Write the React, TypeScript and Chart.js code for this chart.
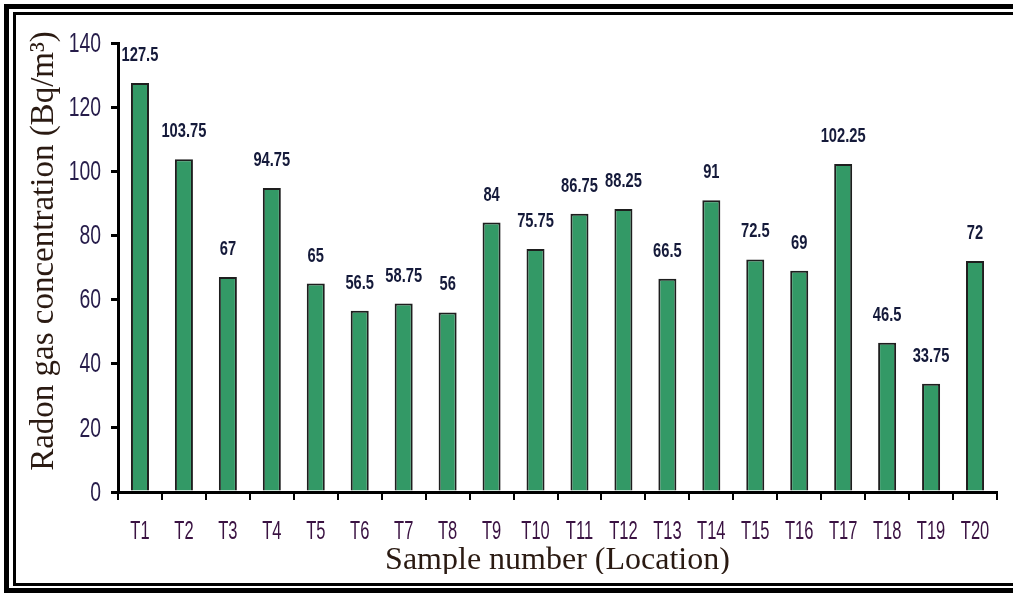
import React, { useEffect, useRef } from "react";
import { Chart, registerables } from "chart.js";

Chart.register(...registerables);

const categories = ["T1","T2","T3","T4","T5","T6","T7","T8","T9","T10","T11","T12","T13","T14","T15","T16","T17","T18","T19","T20"];
const radonValues = [127.5, 103.75, 67, 94.75, 65, 56.5, 58.75, 56, 84, 75.75, 86.75, 88.25, 66.5, 91, 72.5, 69, 102.25, 46.5, 33.75, 72];
const yTickValues = [0, 20, 40, 60, 80, 100, 120, 140];
const xTitle = "Sample number (Location)";
const yTitle = "Radon gas concentration (Bq/m³)";

const SANS = "'Liberation Sans', Arial, sans-serif";
const SERIF = "'Liberation Serif', 'Times New Roman', serif";

// draws text horizontally condensed (the reference uses a narrow face)
function narrowText(ctx: any, text: string, x: number, y: number, sx: number) {
  ctx.save();
  ctx.translate(x, y);
  ctx.scale(sx, 1);
  ctx.fillText(text, 0, 0);
  ctx.restore();
}

const framePlugin = {
  id: "frame",
  afterDraw(chart: any) {
    const ctx = chart.ctx;
    ctx.save();
    // clip the bottom of the x title like the reference
    ctx.fillStyle = "#fff";
    ctx.fillRect(300, 574, 500, 9);
    ctx.strokeStyle = "#000";
    ctx.lineWidth = 5;
    ctx.strokeRect(6.5, 6.5, 1030, 584);
    ctx.lineWidth = 3;
    ctx.strokeRect(14.5, 13.5, 1020, 571);
    ctx.restore();
  },
};

const textPlugin = {
  id: "customText",
  afterDraw(chart: any) {
    const ctx = chart.ctx;
    const ys = chart.scales.y;
    const xs = chart.scales.x;
    ctx.save();
    // y title
    ctx.save();
    ctx.translate(44, 251);
    ctx.rotate(-Math.PI / 2);
    ctx.font = `33px ${SERIF}`;
    ctx.fillStyle = "#2a1a12";
    ctx.textAlign = "center";
    ctx.textBaseline = "middle";
    ctx.fillText(yTitle, 0, 0);
    ctx.restore();
    // y tick labels
    ctx.font = `28px ${SANS}`;
    ctx.fillStyle = "#261c4a";
    ctx.textAlign = "right";
    ctx.textBaseline = "middle";
    ys.ticks.forEach((t: any) => {
      narrowText(ctx, String(t.value), 101, ys.getPixelForValue(t.value) + 1, 0.69);
    });
    // x tick labels
    ctx.font = `25px ${SANS}`;
    ctx.fillStyle = "#3a1242";
    ctx.textAlign = "center";
    ctx.textBaseline = "middle";
    categories.forEach((c, i) => {
      narrowText(ctx, c, xs.getPixelForValue(i), 532, 0.66);
    });
    ctx.restore();
  },
};

const barLabelPlugin = {
  id: "barLabels",
  afterDatasetsDraw(chart: any) {
    const ctx = chart.ctx;
    const meta = chart.getDatasetMeta(0);
    ctx.save();
    ctx.font = `bold 21px ${SANS}`;
    ctx.fillStyle = "#151a3a";
    ctx.textAlign = "center";
    ctx.textBaseline = "alphabetic";
    meta.data.forEach((bar: any, i: number) => {
      narrowText(ctx, String(radonValues[i]), bar.x, bar.y - 22, 0.7);
    });
    ctx.restore();
  },
};

export default function App() {
  const ref = useRef<HTMLCanvasElement | null>(null);
  useEffect(() => {
    if (!ref.current) return;
    const chart = new Chart(ref.current, {
      type: "bar",
      data: {
        labels: categories,
        datasets: [
          {
            data: radonValues,
            backgroundColor: "#339966",
            borderColor: "#1e1e1e",
            borderWidth: 2,
            barPercentage: 0.41,
            categoryPercentage: 1,
          },
        ],
      },
      options: {
        animation: false,
        responsive: true,
        maintainAspectRatio: false,
        layout: { padding: { top: 43, right: 16, bottom: 0, left: 0 } },
        plugins: { legend: { display: false }, tooltip: { enabled: false } },
        scales: {
          x: {
            afterFit(scale: any) {
              scale.height = 102;
            },
            grid: {
              offset: true,
              drawOnChartArea: false,
              drawTicks: true,
              tickLength: 8,
              color: "#000",
              lineWidth: 2,
            },
            border: { color: "#000", width: 3 },
            ticks: { display: false, autoSkip: false },
            title: {
              display: true,
              text: xTitle,
              color: "#2a1a12",
              font: { family: SERIF, size: 32 },
              padding: { top: 0, bottom: 14 },
            },
          },
          y: {
            min: 0,
            max: 140,
            afterFit(scale: any) {
              scale.width = 118;
            },
            afterBuildTicks(scale: any) {
              scale.ticks = yTickValues.map((v) => ({ value: v }));
            },
            grid: {
              drawOnChartArea: false,
              drawTicks: true,
              tickLength: 7,
              color: "#000",
              lineWidth: 3,
            },
            border: { color: "#000", width: 3 },
            ticks: { display: false },
          },
        },
      },
      plugins: [barLabelPlugin, textPlugin, framePlugin],
    });
    return () => chart.destroy();
  }, []);
  return (
    <div style={{ position: "absolute", left: 0, top: 0, width: 1013, height: 594, background: "#fff" }}>
      <canvas ref={ref} />
    </div>
  );
}
